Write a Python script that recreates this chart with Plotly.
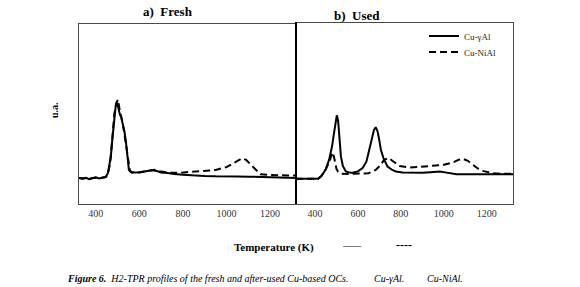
import plotly.graph_objects as go

# ---------------- data ----------------
fresh_cu_gal_T = [323, 340, 355, 370, 385, 400, 415, 430, 445, 455, 462, 469, 476, 485, 492, 497,
                  503, 510, 517, 525, 532, 538, 545, 552, 560, 575, 600, 620, 640, 660, 680, 700,
                  730, 760, 800, 850, 900, 950, 1000, 1050, 1100, 1150, 1200, 1250, 1300, 1320]
fresh_cu_gal_I = [14.5, 14.0, 14.6, 13.8, 14.3, 14.8, 14.2, 14.6, 15.0, 17, 22, 26, 36, 49, 55, 57,
                  53, 50, 48, 44, 40, 35, 26, 19, 17.8, 17.5, 17.6, 18, 18.5, 18.8, 18.3, 17.5,
                  17.2, 16.6, 16.3, 15.8, 15.6, 15.4, 15.5, 15.3, 15.2, 15.0, 14.8, 14.7, 14.5, 14.5]

fresh_cu_nial_T = [323, 340, 355, 370, 385, 400, 415, 430, 445, 455, 465, 475, 485, 495, 502, 510,
                   520, 530, 540, 548, 556, 565, 600, 640, 670, 700, 750, 790, 850, 900, 950, 1000,
                   1030, 1071, 1090, 1110, 1135, 1156, 1200, 1250, 1320]
fresh_cu_nial_I = [14.5, 14.2, 14.5, 14.0, 14.4, 14.6, 14.3, 14.6, 15.0, 16, 22, 35, 50, 56, 58, 52,
                   47, 40, 32, 24, 19, 17.5, 17.5, 18.5, 19, 18, 17.3, 17.4, 18, 18.3, 18.9, 20.5,
                   22.5, 25.4, 24.5, 22.2, 19, 16.5, 16.1, 16.0, 15.8]

used_cu_gal_T = [312, 360, 400, 415, 430, 450, 466, 480, 490, 497, 502, 508, 514, 521, 530, 544,
                 560, 575, 600, 622, 640, 652, 665, 675, 683, 692, 700, 707, 720, 738, 760, 777,
                 808, 850, 900, 940, 981, 1020, 1059, 1100, 1200, 1322]
used_cu_gal_I = [13.9, 13.9, 13.9, 14.0, 15.5, 19, 24.4, 32, 40, 46, 49, 46, 36, 26.3, 21, 18,
                 17.4, 17.3, 18, 19.8, 23.5, 30, 36.5, 41, 42.4, 40, 35, 30, 25, 20.7, 18.8, 18,
                 17.4, 17.2, 17.3, 17.6, 18, 17.2, 16.5, 16.5, 16.5, 16.5]

used_cu_nial_T = [312, 400, 415, 430, 450, 466, 475, 482, 488, 494, 500, 508, 520, 560, 620, 650,
                  684, 705, 722, 744, 765, 795, 842, 888, 950, 995, 1042, 1070, 1088, 1110, 1135,
                  1160, 1181, 1228, 1274, 1322]
used_cu_nial_I = [13.9, 13.9, 14.0, 15.5, 19, 23, 26.5, 28.5, 26.5, 22.8, 19.5, 17.8, 16.8, 16.6, 16.6, 17,
                  18.9, 21.5, 24.4, 25.4, 23.5, 21, 20.2, 20.5, 20.8, 21.5, 22.9, 24.5, 25, 24, 21.7,
                  19.5, 18.3, 17, 16.7, 16.7]

tick_vals = [400, 600, 800, 1000, 1200]
series_names = ["Cu-γAl", "Cu-NiAl"]
panel_titles = ["a)  Fresh", "b)  Used"]

# ---------------- figure ----------------
W, H = 580, 287
SERIF = "Liberation Serif, Times New Roman, serif"

def px(x):
    return x / W

def py(y):
    return 1 - y / H

fig = go.Figure()

dash_style = "7px,4px"

fig.add_trace(go.Scatter(x=fresh_cu_gal_T, y=fresh_cu_gal_I, mode="lines",
                         line=dict(color="black", width=2), showlegend=False,
                         xaxis="x", yaxis="y"))
fig.add_trace(go.Scatter(x=fresh_cu_nial_T, y=fresh_cu_nial_I, mode="lines",
                         line=dict(color="black", width=2, dash=dash_style), showlegend=False,
                         xaxis="x", yaxis="y"))
fig.add_trace(go.Scatter(x=used_cu_gal_T, y=used_cu_gal_I, mode="lines", name=series_names[0],
                         line=dict(color="black", width=2), xaxis="x2", yaxis="y2",
                         legend="legend"))
fig.add_trace(go.Scatter(x=used_cu_nial_T, y=used_cu_nial_I, mode="lines", name=series_names[1],
                         line=dict(color="black", width=2, dash=dash_style), xaxis="x2", yaxis="y2",
                         legend="legend2"))

frame_col = "#4a4a4a"
axis_common = dict(showgrid=False, zeroline=False, showline=True, mirror=True,
                   linecolor=frame_col, linewidth=1, ticks="",
                   tickfont=dict(family=SERIF, size=10, color="#333"))

legend_common = dict(xanchor="left", yanchor="middle", bgcolor="rgba(0,0,0,0)", borderwidth=0,
                     font=dict(family=SERIF, size=9, color="#222"), itemwidth=30)

fig.update_layout(
    width=W, height=H,
    margin=dict(l=0, r=0, t=0, b=0),
    paper_bgcolor="white", plot_bgcolor="white",
    xaxis=dict(domain=[px(79), px(296)], range=[323, 1319], tickvals=tick_vals, anchor="y",
               **axis_common),
    yaxis=dict(domain=[py(204), py(24)], range=[0, 100], showticklabels=False, anchor="x",
               showgrid=False, zeroline=False, showline=True, mirror=True,
               linecolor=frame_col, linewidth=1, ticks=""),
    xaxis2=dict(domain=[px(296), px(513)], range=[312, 1322], tickvals=tick_vals, anchor="y2",
                **axis_common),
    yaxis2=dict(domain=[py(204), py(23)], range=[0, 100], showticklabels=False, anchor="x2",
                showgrid=False, zeroline=False, showline=True, mirror=True,
                linecolor=frame_col, linewidth=1, ticks=""),
    legend=dict(x=px(424), y=py(36), **legend_common),
    legend2=dict(x=px(424), y=py(52), **legend_common),
    showlegend=True,
)

# thick right border of left panel
fig.add_shape(type="line", xref="paper", yref="paper",
              x0=px(296), x1=px(296), y0=py(204), y1=py(22),
              line=dict(color="black", width=2))

ann = []
ann.append(dict(text="<b>" + panel_titles[0] + "</b>", x=px(168), y=py(12)))
ann.append(dict(text="<b>" + panel_titles[1] + "</b>", x=px(357), y=py(15)))
ann.append(dict(text="<b>u.a.</b>", x=px(55), y=py(110), textangle=-90, size=10))
ann.append(dict(text="<b>Temperature (K)</b>", x=px(274), y=py(247), size=11))
ann.append(dict(text="<b>——</b>", x=px(352), y=py(245), size=9))
ann.append(dict(text="<b>----</b>", x=px(404), y=py(245), size=12))
ann.append(dict(text="<b><i>Figure 6.</i></b><i>  H2-TPR profiles of the fresh and after-used Cu-based OCs.</i>",
                x=px(65), y=py(278), xanchor="left", size=10))
ann.append(dict(text="<i>Cu-γAl.</i>", x=px(372), y=py(278), xanchor="left", size=10))
ann.append(dict(text="<i>Cu-NiAl.</i>", x=px(425), y=py(278), xanchor="left", size=10))

for a in ann:
    size = a.pop("size", 13)
    xanchor = a.pop("xanchor", "center")
    fig.add_annotation(xref="paper", yref="paper", showarrow=False,
                       xanchor=xanchor, yanchor="middle",
                       font=dict(family=SERIF, size=size, color="black"), **a)

fig.write_html("out.html", config={"displayModeBar": False},
               post_script="document.body.style.margin='0';document.body.style.padding='0';")
